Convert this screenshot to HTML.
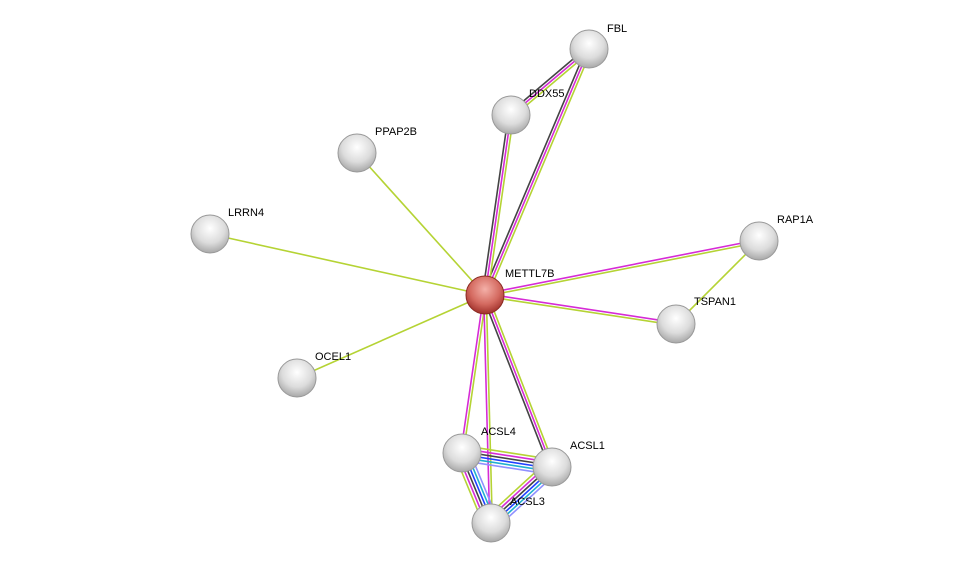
<!DOCTYPE html>
<html><head><meta charset="utf-8"><style>
body{margin:0;background:#fff;width:976px;height:569px;overflow:hidden}
svg{display:block}
text{font-family:"Liberation Sans",sans-serif;font-size:11px;fill:#000}
</style></head><body>
<svg id="s" width="976" height="569" xmlns="http://www.w3.org/2000/svg">
<defs>
<radialGradient id="g" cx="0.5" cy="0.35" r="0.65">
<stop offset="0" stop-color="#ffffff"/><stop offset="0.6" stop-color="#dcdcdc"/><stop offset="1" stop-color="#a8a8a8"/>
</radialGradient>
<radialGradient id="r" cx="0.5" cy="0.35" r="0.65">
<stop offset="0" stop-color="#f4b0a8"/><stop offset="0.6" stop-color="#d46a60"/><stop offset="1" stop-color="#a0302a"/>
</radialGradient>
</defs>
<g id="edges"></g>
<g id="nodes"></g>
</svg>
<script>
var N={METTL7B:[485,295],FBL:[589,49],DDX55:[511,115],PPAP2B:[357,153],LRRN4:[210,234],RAP1A:[759,241],TSPAN1:[676,324],OCEL1:[297,378],ACSL4:[462,453],ACSL1:[552,467],ACSL3:[491,523]};
var Y="#b5d334",M="#d62bd6",K="#444",B="#2040ff",C="#20b0d0",L="#9090ff";
var E=[["METTL7B","FBL",[K,M,Y]],["METTL7B","DDX55",[K,M,Y]],["DDX55","FBL",[K,M,Y]],
["METTL7B","PPAP2B",[Y]],["METTL7B","LRRN4",[Y]],["METTL7B","OCEL1",[Y]],
["METTL7B","RAP1A",[M,Y]],["METTL7B","TSPAN1",[M,Y]],["RAP1A","TSPAN1",[Y]],
["METTL7B","ACSL4",[Y,M]],["METTL7B","ACSL3",[Y,M]],["METTL7B","ACSL1",[Y,M,K]],
["ACSL4","ACSL1",[Y,M,K,B,C,L]],["ACSL4","ACSL3",[L,C,B,K,M,Y]],["ACSL1","ACSL3",[L,C,B,K,M,Y]]];
var ns="http://www.w3.org/2000/svg",eg=document.getElementById("edges"),ng=document.getElementById("nodes");
E.forEach(function(e){var a=N[e[0]],b=N[e[1]],dx=b[0]-a[0],dy=b[1]-a[1],l=Math.hypot(dx,dy),px=-dy/l,py=dx/l,n=e[2].length,sp=n>3?3:2.6;
e[2].forEach(function(c,i){var o=(i-(n-1)/2)*sp,ln=document.createElementNS(ns,"line");
ln.setAttribute("x1",a[0]+px*o);ln.setAttribute("y1",a[1]+py*o);ln.setAttribute("x2",b[0]+px*o);ln.setAttribute("y2",b[1]+py*o);
ln.setAttribute("stroke",c);ln.setAttribute("stroke-width","1.6");eg.appendChild(ln);});});
var lab={METTL7B:[20,-22],FBL:[18,-21],DDX55:[18,-22],PPAP2B:[18,-22],LRRN4:[18,-22],RAP1A:[18,-22],TSPAN1:[18,-23],OCEL1:[18,-22],ACSL4:[19,-22],ACSL1:[18,-22],ACSL3:[19,-22]};
for(var k in N){var p=N[k],c=document.createElementNS(ns,"circle");c.setAttribute("cx",p[0]);c.setAttribute("cy",p[1]);c.setAttribute("r",19);
c.setAttribute("fill",k=="METTL7B"?"url(#r)":"url(#g)");c.setAttribute("stroke",k=="METTL7B"?"#8a2a22":"#999");c.setAttribute("stroke-width","1");ng.appendChild(c);
var t=document.createElementNS(ns,"text");t.setAttribute("x",p[0]+lab[k][0]);t.setAttribute("y",p[1]+lab[k][1]+4);t.textContent=k;ng.appendChild(t);}
</script>
</body></html>
